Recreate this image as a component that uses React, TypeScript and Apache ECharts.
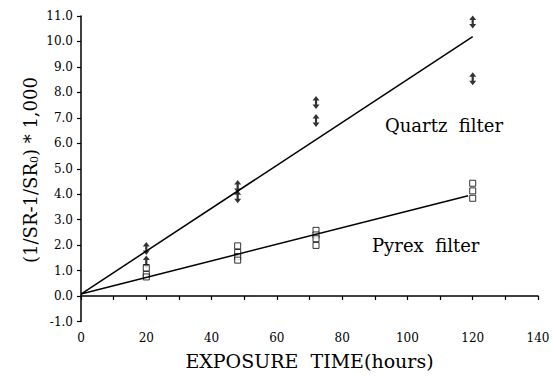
import React, { useEffect, useRef } from "react";
import * as echarts from "echarts";

const quartzPoints: number[][] = [
  [20, 1.87], [20, 1.34],
  [48, 4.3], [48, 3.9],
  [72, 7.6], [72, 6.9],
  [120, 10.76], [120, 8.54],
];
const pyrexPoints: number[][] = [
  [20, 1.1], [20, 0.85], [20, 0.75],
  [48, 1.97], [48, 1.71], [48, 1.55], [48, 1.41],
  [72, 2.58], [72, 2.4], [72, 2.25], [72, 1.99],
  [120, 4.43], [120, 4.13], [120, 3.84],
];
const quartzFit: number[][] = [[0, 0.08], [120, 10.19]];
const pyrexFit: number[][] = [[0, 0.08], [118.6, 3.94]];

const xTitle = "EXPOSURE  TIME(hours)";
const quartzLabel = "Quartz  filter";
const pyrexLabel = "Pyrex  filter";

const FONT = "'DejaVu Serif', 'Liberation Serif', serif";
const arrowPath =
  "path://M3.5 0 L7 4.5 L4.6 4.5 L4.6 8.5 L7 8.5 L3.5 13 L0 8.5 L2.4 8.5 L2.4 4.5 L0 4.5 Z";

export default function App() {
  const ref = useRef<HTMLDivElement>(null);
  useEffect(() => {
    if (!ref.current) return;
    const chart = echarts.init(ref.current, null, { renderer: "svg" });
    chart.setOption({
      animation: false,
      backgroundColor: "#fff",
      textStyle: { fontFamily: FONT, color: "#000" },
      grid: { left: 81, right: 16, top: 16, bottom: 58.5, containLabel: false },
      xAxis: {
        type: "value",
        min: 0,
        max: 140,
        interval: 20,
        name: xTitle,
        nameLocation: "middle",
        nameGap: 30,
        nameTextStyle: { fontFamily: FONT, fontSize: 19, color: "#000" },
        axisLine: { lineStyle: { color: "#000", width: 1.5 } },
        axisTick: { show: true, length: 4, lineStyle: { color: "#000", width: 1.2 } },
        minorTick: { show: true, splitNumber: 2, length: 4, lineStyle: { color: "#000", width: 1.2 } },
        axisLabel: { fontFamily: FONT, fontSize: 12, color: "#000", margin: 10 },
        splitLine: { show: false },
      },
      yAxis: {
        type: "value",
        min: -1,
        max: 11,
        interval: 1,
        axisLine: { onZero: false, lineStyle: { color: "#000", width: 1.5 } },
        axisTick: { show: true, length: 4, lineStyle: { color: "#000", width: 1.2 } },
        axisLabel: {
          fontFamily: FONT,
          fontSize: 12,
          color: "#000",
          margin: 8,
          formatter: (v: number) => v.toFixed(1),
        },
        splitLine: { show: false },
      },
      graphic: [
        {
          type: "text",
          x: 30,
          y: 170,
          rotation: Math.PI / 2,
          style: {
            text: "(1/SR-1/SR{s|0}) * 1,000",
            rich: { s: { fontSize: 11, fontFamily: FONT, padding: [8, 0, 0, 0] } },
            font: `18px ${FONT}`,
            fill: "#000",
            align: "center",
            verticalAlign: "middle",
          },
        },
        {
          type: "text",
          x: 385,
          y: 125,
          style: { text: quartzLabel, font: `18px ${FONT}`, fill: "#000", align: "left", verticalAlign: "middle" },
        },
        {
          type: "text",
          x: 372,
          y: 245,
          style: { text: pyrexLabel, font: `18px ${FONT}`, fill: "#000", align: "left", verticalAlign: "middle" },
        },
      ],
      series: [
        {
          name: "Quartz fit",
          type: "line",
          data: quartzFit,
          symbol: "none",
          lineStyle: { color: "#000", width: 1.5 },
        },
        {
          name: "Pyrex fit",
          type: "line",
          data: pyrexFit,
          symbol: "none",
          lineStyle: { color: "#000", width: 1.5 },
        },
        {
          name: "Quartz filter",
          type: "scatter",
          data: quartzPoints,
          symbol: arrowPath,
          symbolSize: [7, 13],
          itemStyle: { color: "#000" },
        },
        {
          name: "Pyrex filter",
          type: "scatter",
          data: pyrexPoints,
          symbol: "rect",
          symbolSize: 6,
          itemStyle: { color: "#fff", borderColor: "#000", borderWidth: 1 },
        },
      ],
    });
    return () => chart.dispose();
  }, []);
  return (
    <div
      ref={ref}
      style={{ position: "absolute", left: 0, top: 0, width: 554, height: 380 }}
    />
  );
}
